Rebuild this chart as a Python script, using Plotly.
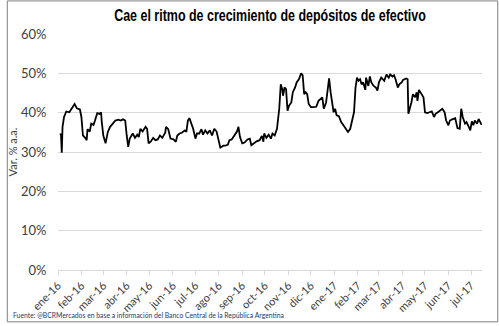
import plotly.graph_objects as go

fechas = [
    "2016-01-04","2016-01-05","2016-01-06","2016-01-07","2016-01-09","2016-01-12","2016-01-16","2016-01-19",
    "2016-01-23","2016-01-26","2016-01-30","2016-02-01","2016-02-03","2016-02-06","2016-02-08","2016-02-09",
    "2016-02-12","2016-02-14","2016-02-17","2016-02-19","2016-02-22","2016-02-25","2016-02-27","2016-02-28",
    "2016-03-01","2016-03-04","2016-03-07","2016-03-10","2016-03-14","2016-03-17","2016-03-21","2016-03-24",
    "2016-03-27","2016-03-30","2016-04-01","2016-04-03","2016-04-05","2016-04-09","2016-04-12","2016-04-15",
    "2016-04-17","2016-04-19","2016-04-22","2016-04-26","2016-04-28","2016-04-30","2016-05-03","2016-05-06",
    "2016-05-09","2016-05-12","2016-05-15","2016-05-18","2016-05-22","2016-05-23","2016-05-26","2016-05-29",
    "2016-06-02","2016-06-05","2016-06-07","2016-06-10","2016-06-13","2016-06-17","2016-06-19","2016-06-21",
    "2016-06-23","2016-06-26","2016-06-28","2016-07-01","2016-07-03","2016-07-06","2016-07-09","2016-07-11",
    "2016-07-14","2016-07-17","2016-07-20","2016-07-23","2016-07-26","2016-07-29","2016-08-01","2016-08-03",
    "2016-08-07","2016-08-10","2016-08-13","2016-08-15","2016-08-18","2016-08-22","2016-08-25","2016-08-27",
    "2016-08-29","2016-09-01","2016-09-04","2016-09-08","2016-09-11","2016-09-13","2016-09-17","2016-09-20",
    "2016-09-24","2016-09-27","2016-09-29","2016-09-30","2016-10-03","2016-10-06","2016-10-09","2016-10-11",
    "2016-10-14","2016-10-17","2016-10-20","2016-10-22","2016-10-24","2016-10-25","2016-10-27","2016-10-29",
    "2016-10-31","2016-11-02","2016-11-05","2016-11-07","2016-11-10","2016-11-12","2016-11-15","2016-11-18",
    "2016-11-20","2016-11-22","2016-11-24","2016-11-26","2016-11-28","2016-12-01","2016-12-04","2016-12-08",
    "2016-12-11","2016-12-14","2016-12-16","2016-12-18","2016-12-21","2016-12-23","2016-12-25","2016-12-27",
    "2016-12-29","2016-12-31","2017-01-02","2017-01-04","2017-01-07","2017-01-10","2017-01-13","2017-01-16",
    "2017-01-19","2017-01-22","2017-01-25","2017-01-27","2017-01-29","2017-01-31","2017-02-02","2017-02-04",
    "2017-02-06","2017-02-08","2017-02-11","2017-02-12","2017-02-15","2017-02-17","2017-02-19","2017-02-22",
    "2017-02-25","2017-02-27","2017-03-01","2017-03-04","2017-03-06","2017-03-08","2017-03-11","2017-03-14",
    "2017-03-16","2017-03-19","2017-03-21","2017-03-23","2017-03-26","2017-03-28","2017-03-31","2017-04-02",
    "2017-04-06","2017-04-08","2017-04-09","2017-04-11","2017-04-13","2017-04-15","2017-04-18","2017-04-20",
    "2017-04-21","2017-04-23","2017-04-26","2017-04-29","2017-05-01","2017-05-04","2017-05-07","2017-05-10",
    "2017-05-13","2017-05-15","2017-05-18","2017-05-21","2017-05-24","2017-05-27","2017-05-29","2017-06-01",
    "2017-06-03","2017-06-06","2017-06-10","2017-06-13","2017-06-16","2017-06-18","2017-06-20","2017-06-23",
    "2017-06-25","2017-06-27","2017-06-30","2017-07-02","2017-07-04","2017-07-06","2017-07-09","2017-07-11",
    "2017-07-13","2017-07-15",
]

variacion = [
    34.7,34.2,29.8,36.4,38.9,40.3,40.1,41.0,
    42.2,41.1,40.8,38.9,34.2,33.6,33.0,35.8,
    35.2,37.2,36.9,38.0,39.9,39.7,40.1,37.6,
    34.2,32.2,35.1,36.4,37.4,38.0,38.2,38.0,
    38.3,38.0,34.2,31.3,33.4,34.7,33.6,34.4,
    33.8,35.9,35.2,36.4,35.9,32.2,32.7,33.6,
    33.0,33.2,34.2,33.6,34.9,36.4,35.8,33.4,
    33.2,32.6,34.2,34.7,34.9,35.5,35.1,38.0,
    38.6,37.2,35.9,33.4,34.7,34.7,35.8,34.4,
    35.5,34.7,35.5,34.2,35.9,35.2,32.2,31.1,
    31.6,31.6,31.9,33.0,33.2,34.2,35.2,36.4,
    33.8,32.2,32.4,33.2,33.4,31.7,32.4,32.7,
    33.0,34.1,32.6,34.7,33.6,34.4,33.4,34.7,
    34.2,35.9,41.0,47.2,46.0,44.3,46.4,46.0,
    40.5,41.8,42.6,45.2,46.4,47.7,48.5,50.0,
    49.5,44.7,45.2,44.7,42.2,41.4,41.4,41.5,
    43.0,43.6,43.9,41.0,42.6,45.6,48.7,45.2,
    42.6,40.1,41.0,39.3,39.1,37.6,36.8,35.9,
    35.1,35.9,38.0,40.1,46.4,48.9,48.1,48.5,
    47.2,47.7,45.8,48.9,46.8,49.2,47.7,46.8,
    46.4,45.6,47.7,48.9,48.5,48.1,49.7,48.9,
    49.7,49.2,49.5,48.5,46.4,47.2,47.7,48.3,
    48.7,48.5,39.7,41.0,42.6,44.7,43.9,45.2,
    43.0,45.8,44.7,43.9,40.1,39.9,40.1,40.3,
    38.9,39.7,40.1,40.5,41.0,40.1,38.0,36.8,
    38.0,38.3,38.6,36.1,35.9,41.0,38.9,37.2,
    37.6,36.8,35.5,37.8,36.8,38.0,37.2,38.4,
    37.4,36.9,
]

meses_val = [
    "2016-01-01","2016-02-01","2016-03-01","2016-04-01","2016-05-01","2016-06-01","2016-07-01",
    "2016-08-01","2016-09-01","2016-10-01","2016-11-01","2016-12-01","2017-01-01","2017-02-01",
    "2017-03-01","2017-04-01","2017-05-01","2017-06-01","2017-07-01",
]
meses_txt = [
    "ene-16","feb-16","mar-16","abr-16","may-16","jun-16","jul-16","ago-16","sep-16","oct-16",
    "nov-16","dic-16","ene-17","feb-17","mar-17","abr-17","may-17","jun-17","jul-17",
]

W, H = 499, 326
ML, MR, MT, MB = 52, 16.5, 34, 53
PW, PH = W - ML - MR, H - MT - MB

fig = go.Figure()
fig.add_trace(go.Scatter(
    x=fechas, y=variacion, mode="lines",
    line=dict(color="#000000", width=1.8),
    showlegend=False, hoverinfo="skip",
))

grid = "#d9d9d9"
fig.update_layout(
    width=W, height=H,
    margin=dict(l=ML, r=MR, t=MT, b=MB, pad=0),
    paper_bgcolor="white", plot_bgcolor="white",
    font=dict(family="Lato, Open Sans, sans-serif", color="#404040"),
    title=dict(
        text="<b>Cae el ritmo de crecimiento de depósitos de efectivo</b>",
        x=0.5, xref="paper", xanchor="center",
        y=1 - 15 / H, yref="container", yanchor="middle",
        font=dict(family="Liberation Sans, Arial, sans-serif", size=16, color="#000000"),
    ),
    xaxis=dict(
        type="date",
        range=["2016-01-01", "2017-07-15 12:00"],
        tickmode="array", tickvals=meses_val, ticktext=meses_txt,
        tickangle=-45, tickfont=dict(size=11, color="#404040"),
        showgrid=False, zeroline=False,
        showline=True, linecolor=grid, linewidth=1,
        ticks="outside", ticklen=4, tickcolor=grid, tickwidth=1,
    ),
    yaxis=dict(
        range=[0, 60], dtick=10, ticksuffix="%",
        tickfont=dict(size=13, color="#404040"),
        showgrid=True, gridcolor=grid, gridwidth=1,
        zeroline=False, showline=False,
        ticks="outside", ticklen=8, tickcolor="rgba(255,255,255,0)",
        title=dict(text="Var. % a.a.", font=dict(size=11, color="#404040"), standoff=1),
    ),
    shapes=[dict(
        type="rect", xref="paper", yref="paper",
        x0=(-ML + 0.5) / PW, x1=1 + (MR - 0.5) / PW,
        y0=(-MB + 0.5) / PH, y1=1 + (MT - 0.5) / PH,
        line=dict(color="#7f7f7f", width=1), fillcolor="rgba(0,0,0,0)", layer="above",
    )],
    annotations=[dict(
        text="Fuente: @BCRMercados en base a información del Banco Central de la República Argentina",
        xref="paper", yref="paper",
        x=(-ML + 4) / PW, y=(-MB + 7) / PH,
        xanchor="left", yanchor="middle", showarrow=False,
        font=dict(size=6.8, color="#1f3864", family="Lato, Open Sans, sans-serif"),
    )],
)

# narrow the bold title horizontally (Arial Narrow look)
post = """
var gd = document.getElementById('{plot_id}');
var t = gd.querySelector('text.gtitle');
if (t) {
  var cx = parseFloat(t.getAttribute('x'));
  t.setAttribute('transform', 'translate(' + cx + ',0) scale(0.78,1) translate(' + (-cx) + ',0)');
}
"""

fig.write_html("out.html", post_script=post)
